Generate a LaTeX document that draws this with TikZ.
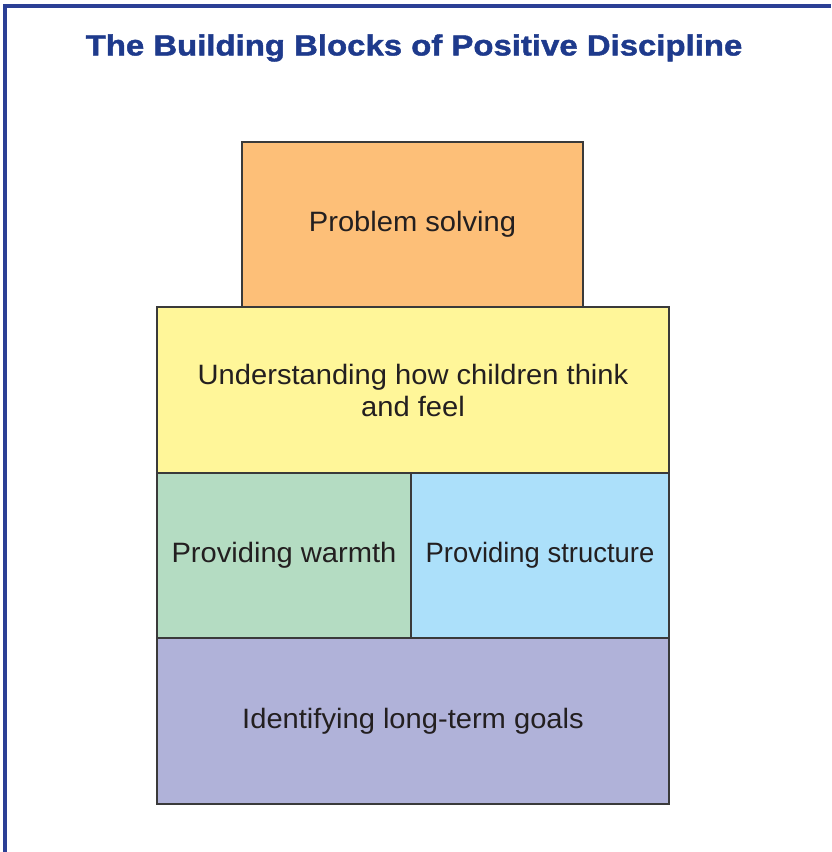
\documentclass[tikz,border=0pt]{standalone}
\usepackage{fontspec}
\setmainfont{Liberation Sans}
\newfontfamily\bodyfont[FakeStretch=1.04]{Liberation Sans}
\newfontfamily\narrowbodyfont[FakeStretch=0.98]{Liberation Sans}
\newfontfamily\titlefont[FakeStretch=1.135,FakeBold=1.5]{Liberation Sans Bold}
\definecolor{framecol}{HTML}{2B3F95}
\definecolor{titlecol}{HTML}{1E3A8C}
\definecolor{txtcol}{HTML}{231F20}
\definecolor{edgecol}{HTML}{3A3A3A}
\definecolor{orangefill}{HTML}{FDBF78}
\definecolor{yellowfill}{HTML}{FFF699}
\definecolor{greenfill}{HTML}{B4DCC2}
\definecolor{bluefill}{HTML}{ACE0FA}
\definecolor{purplefill}{HTML}{B0B2D9}
\tikzset{
  block/.style={draw=edgecol, line width=2.5pt, inner sep=0pt, text=txtcol,
    font=\bodyfont\fontsize{28}{32}\selectfont, align=center},
}
\begin{document}
\begin{tikzpicture}[x=1pt,y=-1pt]
\useasboundingbox (0,0) rectangle (831,852);
\fill[white] (0,0) rectangle (831,852);
\draw[framecol, line width=3.2pt] (5,852) -- (5,6) -- (831,6);
\node[text=titlecol, font=\titlefont\fontsize{29}{34}\selectfont, anchor=center] (title) at (414,48) {The Building Blocks of Positive Discipline};
\node[block, fill=orangefill, minimum width=341pt, minimum height=165pt] (ps) at (412.5,224.5) {Problem solving};
\node[block, fill=yellowfill, minimum width=512pt, minimum height=166pt] (uh) at (413,390) {Understanding how children think\\and feel};
\node[block, fill=greenfill, minimum width=254pt, minimum height=165pt] (pw) at (284,555.5) {Providing warmth};
\node[block, fill=bluefill, minimum width=258pt, minimum height=165pt, font=\narrowbodyfont\fontsize{28}{32}\selectfont] (pst) at (540,555.5) {Providing structure};
\node[block, fill=purplefill, minimum width=512pt, minimum height=166pt] (ig) at (413,721) {Identifying long-term goals};
\end{tikzpicture}
\end{document}
